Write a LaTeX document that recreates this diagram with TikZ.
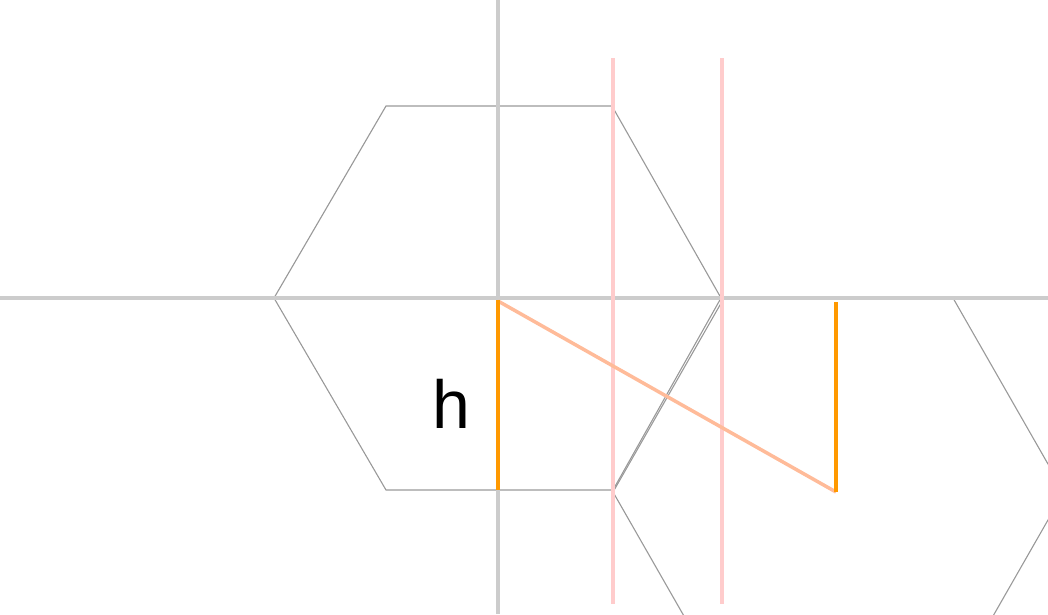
\documentclass[tikz,border=0pt]{standalone}
\usepackage{fontspec}
\setmainfont{Liberation Sans}
\definecolor{axisgrey}{HTML}{CCCCCC}
\definecolor{hexgrey}{HTML}{999999}
\definecolor{pinkline}{HTML}{FFCCCC}
\definecolor{orangeline}{HTML}{FF9900}
\definecolor{salmonline}{HTML}{FFBB99}
\tikzset{
  axis/.style={draw=axisgrey, line width=3.5pt},
  hexedge/.style={draw=hexgrey, line width=1.1pt, line join=miter},
  guide/.style={draw=pinkline, line width=3.5pt},
  height/.style={draw=orangeline, line width=3.5pt},
  diag/.style={draw=salmonline, line width=3.5pt},
}
\begin{document}
\begin{tikzpicture}[x=1pt,y=-1pt]
\useasboundingbox (0,0) rectangle (1048,614);
\begin{scope}
\clip (0,0) rectangle (1048,614);
% first hexagon (center 498,298)
\coordinate (c1) at (498,298);
\draw[hexedge] (386,106) -- (612,106) -- (721,298) -- (613,490) -- (386,490) -- (274,298) -- cycle;
% second hexagon (center 838,492)
\coordinate (c2) at (836,492);
\draw[hexedge] (724,298) -- (953,298) -- (1064,492) -- (953,686) -- (724,686) -- (613,492) -- cycle;
% axes
\draw[axis] (0,298) -- (1048,298);
\draw[axis] (498,0) -- (498,614);
% pink guides
\coordinate (g1t) at (613,58); \coordinate (g1b) at (613,604);
\coordinate (g2t) at (722,58); \coordinate (g2b) at (722,604);
\draw[guide] (g1t) -- (g1b);
\draw[guide] (g2t) -- (g2b);
% salmon diagonal
\coordinate (c1s) at (498,301);
\draw[diag] (c1s) -- (c2);
% orange heights
\coordinate (h1b) at (498,490);
\coordinate (h2t) at (836,302);
\draw[height] (498,300) -- (h1b);
\draw[height] (h2t) -- (c2);
\end{scope}
\node[font=\fontsize{68}{68}\selectfont, text=black, inner sep=0pt] (hlabel) at (451,404) {h};
\end{tikzpicture}
\end{document}
